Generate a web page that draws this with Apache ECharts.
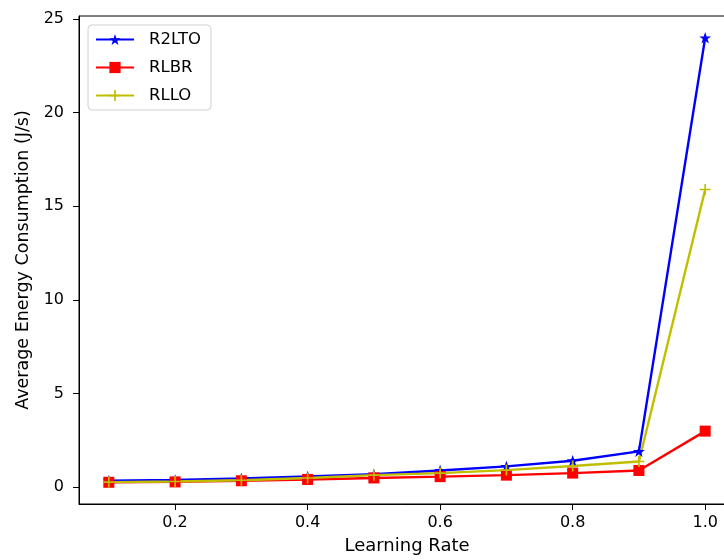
<!DOCTYPE html>
<html>
<head>
<meta charset="utf-8">
<script src="https://cdn.jsdelivr.net/npm/echarts@6/dist/echarts.min.js"></script>
<style>
html,body{margin:0;padding:0;background:#fff;}
#chart{width:724px;height:560px;}
</style>
</head>
<body>
<div id="chart"></div>
<script>
// ---- data ----
const learningRates = [0.1, 0.2, 0.3, 0.4, 0.5, 0.6, 0.7, 0.8, 0.9, 1.0];
const r2lto = [0.35, 0.40, 0.48, 0.58, 0.70, 0.90, 1.12, 1.42, 1.92, 24.0];
const rlbr  = [0.27, 0.29, 0.35, 0.42, 0.50, 0.57, 0.65, 0.76, 0.90, 3.0];
const rllo  = [0.28, 0.31, 0.38, 0.50, 0.65, 0.76, 0.92, 1.14, 1.38, 15.9];
const xTicks = [0.2, 0.4, 0.6, 0.8, 1.0];
const yTicks = [0, 5, 10, 15, 20, 25];
const seriesNames = ['R2LTO', 'RLBR', 'RLLO'];

const pair = (ys) => learningRates.map((x, i) => [x, ys[i]]);

const STAR = 'path://M50,0 L61.8,34.5 L97.6,34.5 L68.8,55.9 L79.4,90.5 L50,69.1 L20.6,90.5 L31.2,55.9 L2.4,34.5 L38.2,34.5 Z';
const PLUS = 'path://M4.25,0H5.75V4.25H10V5.75H5.75V10H4.25V5.75H0V4.25H4.25Z';
const FONT = 'DejaVu Sans';

const chart = echarts.init(document.getElementById('chart'), null, {renderer: 'canvas'});
chart.setOption({
  animation: false,
  backgroundColor: '#fff',
  textStyle: {fontFamily: FONT},
  grid: {
    left: 79, top: 16, width: 656, height: 488,
    containLabel: false, outerBoundsMode: 'none',
    show: true, borderColor: '#000', borderWidth: 1, backgroundColor: 'transparent'
  },
  legend: {
    left: 88, top: 25, orient: 'vertical',
    data: seriesNames,
    itemWidth: 38, itemHeight: 14, itemGap: 11,
    padding: [6, 10, 6, 7],
    backgroundColor: 'rgba(255,255,255,0.85)',
    borderColor: '#d0d0d0', borderWidth: 1, borderRadius: 4,
    textStyle: {fontFamily: FONT, fontSize: 16.5, color: '#000', padding: [0, 0, 0, 10]}
  },
  xAxis: {
    type: 'value', min: 0.055, max: 1.045,
    name: 'Learning Rate', nameLocation: 'middle', nameGap: 33,
    nameTextStyle: {fontFamily: FONT, fontSize: 18, color: '#000'},
    axisLine: {show: true, onZero: false, lineStyle: {color: '#000', width: 1}},
    axisTick: {show: true, length: 6, lineStyle: {color: '#000'}, customValues: xTicks},
    axisLabel: {
      customValues: xTicks, margin: 11, fontFamily: FONT, fontSize: 16, color: '#000',
      formatter: (v) => v.toFixed(1)
    },
    splitLine: {show: false}
  },
  yAxis: {
    type: 'value', min: -0.89, max: 25.16,
    name: 'Average Energy Consumption (J/s)', nameLocation: 'middle', nameGap: 39,
    nameTextStyle: {fontFamily: FONT, fontSize: 17.5, color: '#000'},
    axisLine: {show: true, onZero: false, lineStyle: {color: '#000', width: 1}},
    axisTick: {show: true, length: 6, lineStyle: {color: '#000'}, customValues: yTicks},
    axisLabel: {
      customValues: yTicks, margin: 15, fontFamily: FONT, fontSize: 16, color: '#000',
      formatter: (v) => String(v)
    },
    splitLine: {show: false}
  },
  series: [
    {
      name: seriesNames[0], type: 'line', data: pair(r2lto),
      symbol: STAR, symbolSize: 12, symbolKeepAspect: true, showAllSymbol: true,
      lineStyle: {color: '#0000ff', width: 2.4},
      itemStyle: {color: '#0000ff', borderWidth: 0}
    },
    {
      name: seriesNames[1], type: 'line', data: pair(rlbr),
      symbol: 'rect', symbolSize: 11, showAllSymbol: true,
      lineStyle: {color: '#ff0000', width: 2.4},
      itemStyle: {color: '#ff0000', borderWidth: 0}
    },
    {
      name: seriesNames[2], type: 'line', data: pair(rllo),
      symbol: PLUS, symbolSize: 11, symbolKeepAspect: true, showAllSymbol: true,
      lineStyle: {color: '#bfbf00', width: 2.4},
      itemStyle: {color: '#bfbf00', borderWidth: 0}
    }
  ]
});
</script>
</body>
</html>
